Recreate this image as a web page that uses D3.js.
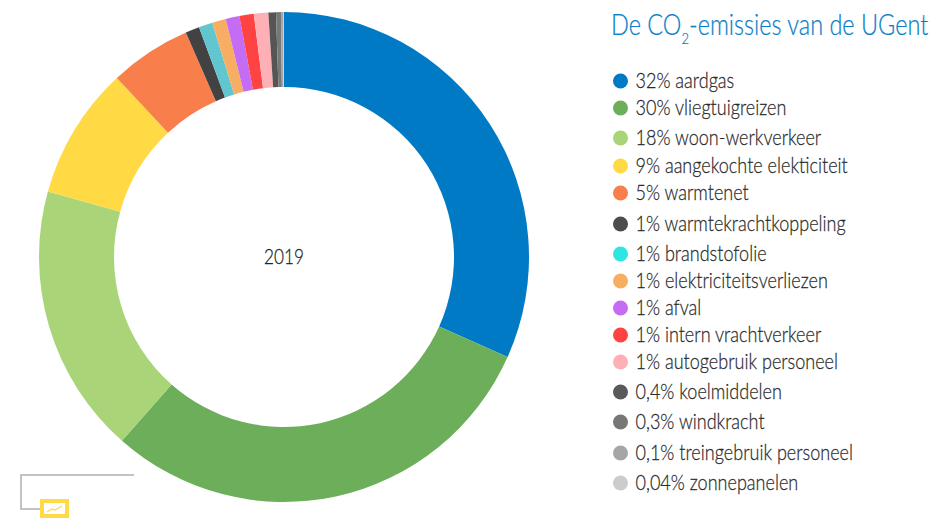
<!DOCTYPE html>
<html><head><meta charset="utf-8">
<script src="https://cdn.jsdelivr.net/npm/d3@7"></script>
<style>html,body{margin:0;padding:0;background:#fff}svg{display:block}text{font-family:Lato,"Noto Sans",sans-serif;font-weight:300}</style>
</head><body><svg id="c" width="946" height="518"></svg>
<script>
const labels=["32% aardgas","30% vliegtuigreizen","18% woon-werkverkeer","9% aangekochte elekticiteit","5% warmtenet","1% warmtekrachtkoppeling","1% brandstofolie","1% elektriciteitsverliezen","1% afval","1% intern vrachtverkeer","1% autogebruik personeel","0,4% koelmiddelen","0,3% windkracht","0,1% treingebruik personeel","0,04% zonnepanelen"];
const values=[31.7,29.8,17.8,8.75,5.39,0.92,0.91,0.91,0.9,0.95,0.95,0.5,0.32,0.14,0.06];
const sliceColors=["#007ac5","#6dae5a","#a9d478","#ffda44","#f87f4c","#424242","#62c6cf","#f8ae62","#c46cf4","#ff4343","#ffb0b6","#555555","#777777","#a6a6a6","#cccccc"];
const dotColors=["#007ac5","#6dae5a","#a9d478","#ffda44","#f87f4c","#4d4d4d","#2de5e3","#f8ae62","#c46cf4","#ff4343","#ffb0b6","#5a5a5a","#777777","#a6a6a6","#cccccc"];
const legendRows=[81,108,138,166,193,224,254,281,308,335,362,392,422,453,483];
const svg=d3.select("#c");
const pie=d3.pie().sort(null)(values);
const arc=d3.arc().innerRadius(170).outerRadius(245);
svg.append("g").attr("transform","translate(284,257)").selectAll("path").data(pie).join("path")
 .attr("d",arc).attr("fill",(d,i)=>sliceColors[i]);
svg.append("text").attr("x",0).attr("y",0).attr("text-anchor","middle").attr("font-size",21).attr("fill","#222").attr("stroke","#222").attr("stroke-width",.25)
 .attr("transform","translate(284,264) scale(.82,1)").text("2019");
const t=svg.append("text").attr("transform","translate(611,35) scale(.81,1)").attr("font-size",29).attr("fill","#0b7fc7").attr("stroke","#0b7fc7").attr("stroke-width",.25);
t.append("tspan").text("De CO");
t.append("tspan").attr("font-size",16).attr("dy",9).text("2");
t.append("tspan").attr("dy",-9).text("-emissies van de UGent");
const g=svg.append("g").selectAll("g").data(labels).join("g").attr("transform",(d,i)=>`translate(620.5,${legendRows[i]})`);
g.append("circle").attr("r",7.5).attr("fill",(d,i)=>dotColors[i]);
g.append("text").attr("transform","translate(15,7) scale(.82,1)").attr("font-size",22).attr("fill","#2a2a2a").attr("stroke","#2a2a2a").attr("stroke-width",.25).text(d=>d);
svg.append("path").attr("d",d3.line()([[134,475],[21,475],[21,509],[41,509]])).attr("fill","none").attr("stroke","#b0b0b0").attr("stroke-width",1.5);
svg.append("rect").attr("x",42).attr("y",501).attr("width",25).attr("height",15).attr("fill","#fff").attr("stroke","#ffda44").attr("stroke-width",4);
svg.append("path").attr("d",d3.line()([[47,512],[52,509],[55,510],[62,506]])).attr("fill","none").attr("stroke","#ffda44").attr("stroke-width",1.2);
</script></body></html>
